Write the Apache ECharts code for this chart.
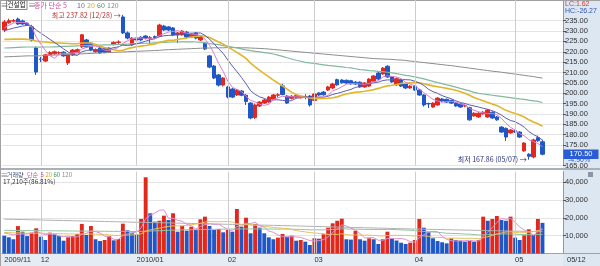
<!DOCTYPE html>
<html><head><meta charset="utf-8">
<script src="https://cdn.jsdelivr.net/npm/echarts@6/dist/echarts.min.js"></script>
<style>html,body{margin:0;padding:0;background:#fff}#c{width:600px;height:266px}</style>
</head><body><div id="c"></div>
<script>
// ---------- DATA ----------
const dates = [
'2009/11/19','2009/11/20','2009/11/23','2009/11/24','2009/11/25','2009/11/26','2009/11/27','2009/11/30',
'2009/12/01','2009/12/02','2009/12/03','2009/12/04','2009/12/07','2009/12/08','2009/12/09','2009/12/10','2009/12/11','2009/12/14','2009/12/15','2009/12/16','2009/12/17','2009/12/18','2009/12/21','2009/12/22','2009/12/23','2009/12/24','2009/12/28','2009/12/29','2009/12/30',
'2010/01/04','2010/01/05','2010/01/06','2010/01/07','2010/01/08','2010/01/11','2010/01/12','2010/01/13','2010/01/14','2010/01/15','2010/01/18','2010/01/19','2010/01/20','2010/01/21','2010/01/22','2010/01/25','2010/01/26','2010/01/27','2010/01/28','2010/01/29',
'2010/02/01','2010/02/02','2010/02/03','2010/02/04','2010/02/05','2010/02/08','2010/02/09','2010/02/10','2010/02/11','2010/02/12','2010/02/16','2010/02/17','2010/02/18','2010/02/19','2010/02/22','2010/02/23','2010/02/24','2010/02/25','2010/02/26',
'2010/03/02','2010/03/03','2010/03/04','2010/03/05','2010/03/08','2010/03/09','2010/03/10','2010/03/11','2010/03/12','2010/03/15','2010/03/16','2010/03/17','2010/03/18','2010/03/19','2010/03/22','2010/03/23','2010/03/24','2010/03/25','2010/03/26','2010/03/29','2010/03/30','2010/03/31',
'2010/04/01','2010/04/02','2010/04/05','2010/04/06','2010/04/07','2010/04/08','2010/04/09','2010/04/12','2010/04/13','2010/04/14','2010/04/15','2010/04/16','2010/04/19','2010/04/20','2010/04/21','2010/04/22','2010/04/23','2010/04/26','2010/04/27','2010/04/28','2010/04/29','2010/04/30',
'2010/05/03','2010/05/04','2010/05/06','2010/05/07','2010/05/10','2010/05/11','2010/05/12'];
const padSlots = [' ', '  ', '   ', '    '];
const monthLabels = ['2009/11','12','2010/01','02','03','04','05'];

const openP = [230.5,234.0,234.8,235.8,234.9,233.8,232.0,221.8,216.5,215.5,
218.5,219.0,219.4,219.8,214.6,218.4,219.8,222.4,225.7,224.2,
220.0,221.8,221.5,219.9,223.5,224.5,236.8,229.1,223.3,226.6,
227.0,227.6,226.5,227.3,227.6,232.4,232.0,231.5,228.1,228.1,
229.5,227.1,229.1,225.7,224.2,218.0,213.1,208.8,203.9,203.0,
202.0,199.1,201.0,199.0,195.2,188.2,193.8,195.2,195.7,197.2,
199.0,203.5,198.6,197.5,198.0,197.8,198.2,198.6,196.5,200.1,
200.5,201.5,202.5,206.5,206.3,206.2,206.0,205.3,205.3,203.0,
203.4,205.8,209.7,209.3,213.0,207.8,204.0,206.3,204.4,202.5,
203.4,201.5,199.1,195.0,193.3,194.3,197.2,197.0,196.5,195.2,
194.8,193.8,193.0,189.0,188.5,190.0,188.5,190.8,188.5,183.6,
183.0,180.8,181.8,181.2,172.1,170.5,169.2,178.5,176.5];
const closeP = [234.4,235.0,235.0,233.4,233.4,233.0,225.7,210.2,216.3,218.5,
219.6,220.0,219.6,218.0,218.4,220.8,221.0,228.2,222.3,220.8,
221.0,219.4,219.8,221.8,224.5,224.7,229.1,226.6,226.6,225.7,
225.7,226.6,226.8,226.8,232.9,230.5,230.5,228.1,229.1,230.0,
227.1,228.6,226.6,227.1,221.3,212.6,207.3,203.9,207.3,198.1,
198.1,201.5,199.0,196.0,188.0,194.3,195.7,196.7,198.1,199.1,
199.2,199.3,195.2,198.5,198.8,198.5,198.3,194.3,199.6,199.1,
199.2,203.0,204.4,204.0,205.0,204.9,204.5,204.4,203.0,204.9,
206.8,208.3,206.8,212.1,207.8,205.4,207.0,203.4,202.5,203.4,
201.5,199.1,194.3,194.8,195.2,197.6,196.2,195.7,195.2,193.8,
193.3,193.9,187.1,190.3,190.3,190.8,191.8,188.0,187.1,181.2,
178.8,182.2,181.2,178.8,175.9,169.5,177.4,177.0,170.5];
const lowP = [229.5,233.5,234.2,233.0,233.0,232.5,225.0,208.8,215.0,215.0,
218.0,218.6,218.8,217.6,213.6,218.0,219.4,221.8,221.8,220.3,
219.5,219.0,219.3,219.5,223.0,223.8,228.5,226.0,222.8,225.2,
225.2,226.0,223.8,226.2,227.2,230.0,230.0,227.6,224.2,227.8,
226.6,226.8,226.0,225.2,220.8,212.0,206.8,203.2,203.2,197.5,
197.6,198.6,198.5,194.3,187.4,187.5,193.3,194.8,195.3,196.8,
198.0,199.0,194.8,197.0,197.6,197.4,197.0,193.5,194.3,198.7,
198.8,201.0,202.0,203.6,204.6,204.5,204.1,204.0,202.6,202.6,
203.0,205.4,206.4,208.9,207.4,205.0,203.6,203.0,202.0,202.1,
201.1,198.7,193.5,192.8,192.9,193.9,195.8,195.3,194.8,193.4,
192.9,193.2,186.7,188.6,188.1,189.6,188.1,187.6,186.7,180.8,
176.9,180.4,180.8,178.4,171.7,167.86,168.5,176.5,170.0];
const highP = [235.3,236.0,235.8,236.5,235.5,234.3,233.0,222.5,217.5,219.0,
220.3,220.6,220.2,220.2,218.8,221.3,221.6,228.6,226.2,224.6,
221.6,222.3,222.0,222.2,225.0,225.5,237.82,229.8,227.0,227.3,
227.5,228.0,227.6,227.8,233.5,233.0,232.4,231.9,229.5,230.5,
230.0,229.0,229.5,227.6,224.7,218.5,213.6,209.3,207.8,203.5,
202.5,202.0,201.5,199.5,195.7,195.0,196.2,197.2,198.6,199.6,
200.0,204.5,199.0,199.0,199.2,199.0,199.5,199.0,200.0,200.5,
201.0,203.5,205.0,207.0,206.8,206.6,206.4,205.8,205.7,205.3,
207.2,208.8,210.2,212.6,213.5,208.3,207.5,206.8,204.8,203.8,
203.8,202.0,199.5,195.4,195.6,198.0,197.6,197.4,196.9,195.6,
195.2,194.5,193.4,190.8,190.8,191.3,192.3,191.2,188.9,184.0,
183.4,182.6,182.3,181.6,176.3,171.0,178.0,179.5,177.5];

const ma5 = [231.5,232.8,233.8,234.2,234.2,234.0,232.1,227.1,223.7,220.7,
218.1,216.9,218.8,219.1,219.1,219.4,219.6,221.3,222.1,222.6,
222.7,222.3,220.7,220.6,221.3,222.0,224.0,225.3,226.3,226.5,
226.7,226.2,226.3,226.3,227.8,228.7,229.5,229.8,230.2,229.6,
229.0,228.6,228.3,227.9,226.1,223.2,219.0,214.4,210.5,205.8,
202.9,201.8,200.8,198.5,196.5,195.8,194.6,194.1,194.6,196.8,
197.8,198.5,198.2,198.3,198.2,198.1,197.9,197.7,197.9,198.0,
198.1,199.0,201.1,201.9,203.1,204.3,204.6,204.6,204.4,204.3,
204.7,205.5,206.0,207.8,208.4,208.1,207.8,207.1,205.2,204.3,
203.6,202.0,200.2,198.6,197.0,196.2,195.6,195.9,196.0,195.7,
194.8,194.4,192.7,191.7,191.0,190.5,190.1,190.2,189.6,187.8,
185.4,183.5,182.1,180.4,179.4,177.5,176.6,175.7,174.1];
const ma10 = [230.2,230.8,231.4,231.9,232.4,232.7,232.5,230.5,229.0,227.5,
226.0,224.5,223.0,221.4,219.9,218.7,218.2,220.0,220.6,220.9,
221.0,221.0,221.0,221.4,222.0,222.4,223.2,223.0,223.4,223.9,
224.4,225.1,225.8,226.3,227.2,227.7,227.9,228.0,228.3,228.7,
228.8,229.0,229.0,229.1,227.9,226.1,223.8,221.4,219.2,216.0,
213.1,210.4,207.6,204.5,201.2,199.4,198.2,197.5,196.6,196.7,
196.8,196.5,196.2,196.4,197.5,197.9,198.2,197.9,198.1,198.1,
198.1,198.5,199.4,199.9,200.5,201.2,201.8,202.8,203.2,203.7,
204.5,205.0,205.3,206.1,206.4,206.4,206.7,206.6,206.5,206.4,
205.8,204.9,203.7,201.9,200.7,199.9,198.8,198.0,197.3,196.3,
195.5,195.0,194.3,193.8,193.3,192.7,192.2,191.5,190.6,189.4,
187.9,186.8,186.2,185.0,183.6,181.5,180.0,178.9,177.3];
const ma20 = [226.0,226.0,226.1,226.1,226.1,226.0,225.8,225.2,224.9,224.7,
224.5,224.3,224.2,224.1,224.0,223.9,223.9,224.2,224.2,224.2,
223.5,222.7,222.0,221.4,221.0,220.5,220.7,221.5,222.0,222.4,
222.7,223.0,223.4,223.8,224.6,225.0,225.5,225.5,225.9,226.3,
226.6,227.1,227.4,227.7,227.5,226.9,225.8,224.7,223.7,222.4,
221.0,219.7,218.3,216.8,214.5,212.7,211.0,209.4,207.9,206.3,
204.9,203.5,201.9,200.5,199.3,198.6,198.2,197.7,197.3,197.4,
197.4,197.5,197.8,198.2,199.0,199.6,200.0,200.4,200.6,200.9,
201.3,201.7,202.3,203.0,203.5,203.8,204.2,204.7,204.8,205.0,
205.2,205.0,204.5,204.0,203.5,203.1,202.7,202.3,201.9,201.4,
200.7,200.0,199.0,197.9,197.0,196.3,195.5,194.7,194.0,192.9,
191.7,190.9,190.2,189.4,188.5,187.1,186.1,185.2,184.0];
const ma60 = [221.8,221.9,222.0,222.1,222.2,222.3,222.3,222.2,222.2,222.3,
222.3,222.4,222.5,222.6,222.6,222.7,222.8,222.9,223.0,223.1,
223.2,223.2,223.3,223.3,223.4,223.5,223.6,223.7,223.8,223.9,
224.0,224.1,224.2,224.3,224.4,224.5,224.6,224.7,224.7,224.8,
224.8,224.8,224.7,224.6,224.3,223.9,223.7,223.4,223.0,222.6,
222.2,221.8,221.4,220.9,220.5,220.2,219.9,219.6,219.3,218.9,
218.4,217.8,217.1,216.5,215.9,215.4,214.9,214.6,214.4,214.0,
213.7,213.4,213.2,212.9,212.7,212.4,212.2,211.8,211.4,211.2,
210.9,210.8,210.5,210.4,210.1,209.8,209.4,209.0,208.6,208.3,
207.9,207.4,206.9,206.3,205.7,205.1,204.6,204.0,203.5,202.9,
202.3,201.7,201.1,200.4,199.9,199.6,199.3,199.0,198.7,198.4,
198.1,197.8,197.5,197.2,197.0,196.6,196.3,196.0,195.5];
const ma120 = [217.5,217.6,217.7,217.8,217.9,218.0,218.0,218.0,218.1,218.2,
218.3,218.4,218.5,218.6,218.7,218.8,218.9,219.0,219.1,219.2,
219.3,219.4,219.5,219.6,219.7,219.8,219.9,220.0,220.1,220.2,
220.3,220.4,220.5,220.6,220.7,220.9,221.0,221.1,221.2,221.3,
221.4,221.5,221.6,221.7,221.8,221.8,221.9,221.9,221.9,222.0,
222.0,222.0,221.9,221.9,221.8,221.7,221.6,221.5,221.3,221.1,
220.9,220.7,220.5,220.3,220.1,219.9,219.7,219.5,219.3,219.1,
218.9,218.7,218.5,218.3,218.1,217.9,217.7,217.5,217.3,217.1,
216.9,216.7,216.6,216.5,216.4,216.3,216.1,216.0,215.8,215.5,
215.3,215.0,214.8,214.5,214.3,214.0,213.8,213.5,213.3,213.0,
212.7,212.4,212.1,211.8,211.5,211.2,210.9,210.6,210.4,210.1,
209.8,209.5,209.2,208.9,208.6,208.3,208.0,207.6,207.3];

const volume = [10000,9100,8000,15400,12250,9800,11700,14150,9450,7600,
11700,10800,9800,7200,9100,9800,10950,16600,10400,15450,
8000,7000,7600,9800,7400,8150,16750,13000,11700,10800,
19400,42800,22600,17900,18400,21250,18800,22600,12250,15450,
12800,15050,13200,19200,20700,15450,13200,13750,11900,13200,
12250,25000,15050,20100,11350,16600,14500,11350,9100,8000,
8900,10950,9450,10000,7200,7600,6650,4800,8550,8300,
10800,14500,16950,18400,19550,8000,7800,12800,8000,7200,
8550,8000,5350,8000,12250,8550,7300,6050,5350,6100,
7600,19400,14500,12100,8550,7000,6300,5700,8550,7600,
7200,6650,7000,6650,7600,20700,18400,19400,21050,18800,
18400,20700,8900,7600,10200,13600,10400,19400,17210];
const vma5 = [11500,11000,10500,10800,10950,10910,11430,12660,11470,10540,
10920,10740,9870,9420,9720,9340,9370,10730,11370,12640,
12280,11490,9690,9570,7960,7990,9940,11020,11400,12080,
14330,19540,21460,22700,24220,24590,19790,19790,18660,18070,
16380,15630,13750,15140,16190,16720,16350,16460,15000,13500,
12860,15220,15480,17120,16750,17620,15520,14780,12580,11910,
10370,9660,9280,9460,9300,9040,8180,7250,6960,7180,
7820,9390,11820,13790,16040,15480,14140,13310,11230,8760,
8870,8910,7420,7420,8430,8430,8290,8430,7900,6670,
6480,8900,10590,11940,12430,12310,9690,7930,7220,7030,
7070,7140,7400,7020,7020,9720,12070,14550,17430,19670,
19210,19670,17570,14880,13160,12200,10140,12240,14160];
const vma20 = [11800,11700,11600,11600,11500,11400,11400,11450,11400,11300,
11250,11200,11100,11050,11000,10950,10900,10950,10980,10960,
10860,10760,10740,10460,10220,10130,10390,10330,10440,10600,
10990,12590,13230,13760,14230,14800,15190,15490,15580,15580,
15820,16230,16510,16980,17640,18010,17830,17870,17880,18000,
17640,16750,16370,16480,16130,15900,15680,15120,14960,14590,
14390,14190,14000,13540,12870,12470,12150,11700,11530,11290,
11210,10690,10780,10700,11110,10680,10340,10420,10360,10320,
10300,10160,9950,9850,10100,10150,10180,10250,10090,9980,
9820,10060,9940,9620,9070,9020,8950,8590,8620,8640,
8570,8510,8590,8520,8290,8900,9450,10120,10900,11540,
12080,12140,11860,11640,11720,12050,12260,12940,13370];
const vma60 = [13000,13000,12950,12950,12900,12900,12850,12850,12800,12800,
12750,12750,12700,12700,12650,12650,12600,12600,12600,12550,
12550,12500,12500,12450,12450,12400,12400,12400,12350,12350,
12400,12500,12600,12700,12800,12900,13000,13100,13200,13250,
13300,13350,13400,13450,13500,13550,13600,13650,13700,13750,
13750,13800,13800,13800,13800,13780,13760,13740,13720,13710,
13690,13720,13750,13660,13570,13540,13450,13300,13280,13290,
13280,13340,13460,13650,13820,13790,13740,13670,13630,13500,
13510,13520,13490,13460,13540,13540,13390,13270,13160,13090,
12890,12500,12360,12270,12100,11870,11660,11380,11310,11180,
11090,10950,10850,10640,10420,10510,10590,10690,10840,10930,
11040,10960,10860,10650,10630,10580,10520,10650,10780];
const vma120 = [19300,19240,19180,19120,19060,19000,18940,18880,18820,18760,
18700,18640,18580,18520,18460,18400,18340,18280,18220,18160,
18100,18040,17980,17920,17860,17800,17740,17680,17620,17560,
17500,17450,17400,17350,17300,17240,17180,17120,17060,17000,
16940,16880,16820,16760,16700,16640,16580,16520,16460,16400,
16340,16280,16220,16160,16100,16040,15980,15920,15860,15800,
15740,15670,15600,15540,15470,15400,15340,15270,15200,15140,
15070,15000,14940,14870,14800,14740,14670,14600,14540,14470,
14400,14340,14270,14200,14140,14070,14000,13940,13870,13800,
13750,13700,13640,13590,13530,13480,13420,13370,13310,13260,
13200,13150,13090,13040,12980,12930,12870,12820,12760,12710,
12650,12600,12540,12490,12430,12380,12330,12290,12250];

const priceTicks = [165,175,180,185,190,195,200,205,210,215,220,225,230,235];
const volumeTicks = [10000,20000,30000,40000];
const changePct = '-4.90%';
const volShare = '86.81%';
const lcText = 'LC:1.62', hcText = 'HC:-26.27';

// ---------- BUILD ----------
const FONT = "'Liberation Sans','Noto Sans CJK KR',sans-serif";
const KFONT = "'Noto Sans CJK KR','Liberation Sans',sans-serif";
const RED = '#e2271d', BLUE = '#1f57c6';
const cats = dates.concat(padSlots);
const monthIdx = [];
dates.forEach((d, i) => { if (i === 0 || d.slice(0, 7) !== dates[i - 1].slice(0, 7)) monthIdx.push(i); });
const labelOf = {}; monthIdx.forEach((i, k) => { labelOf[i] = monthLabels[k]; });

const candles = dates.map((d, i) => [openP[i], closeP[i], lowP[i], highP[i]]);
const volBars = volume.map((v, i) => ({ value: v, itemStyle: { color: (i > 0 && v > volume[i - 1]) ? RED : BLUE } }));

let hiI = 0, loI = 0;
highP.forEach((v, i) => { if (v > highP[hiI]) hiI = i; });
lowP.forEach((v, i) => { if (v < lowP[loI]) loI = i; });
const mmdd = i => dates[i].slice(5);
const last = dates.length - 1;

const monthLines = monthIdx.slice(1).map(i => ({ xAxis: cats[i] }));
const nulls = cats.map(() => null);

function maLine(name, data, color, xi, width, z) {
  return { name, type: 'line', data, xAxisIndex: xi, yAxisIndex: xi, showSymbol: false, symbol: 'none',
    lineStyle: { color, width: width || 1 }, z: z || 3, silent: true };
}
function txt(x, y, text, fill, font) {
  return { type: 'text', z: 10, silent: true, x, y, style: { text, fill, font, verticalAlign: 'middle' } };
}

const graphics = [
  { type: 'rect', silent: true, z: -10, shape: { x: 563, y: 0, width: 37, height: 266 }, style: { fill: '#dde7f2' } },
  { type: 'rect', silent: true, z: -10, shape: { x: 0, y: 253.5, width: 563, height: 12.5 }, style: { fill: '#e6ecf3' } },
  { type: 'rect', silent: true, z: 5, shape: { x: 0, y: 168, width: 600, height: 2 }, style: { fill: '#a8b0ba' } },
  { type: 'line', silent: true, z: 5, shape: { x1: 0, y1: 0.5, x2: 600, y2: 0.5 }, style: { stroke: '#a0a0a0', lineWidth: 1 } },
  { type: 'line', silent: true, z: 5, shape: { x1: 0.5, y1: 0, x2: 0.5, y2: 266 }, style: { stroke: '#a0a0a0', lineWidth: 1 } },
  { type: 'line', silent: true, z: 5, shape: { x1: 563, y1: 253.5, x2: 600, y2: 253.5 }, style: { stroke: '#9aa4b0', lineWidth: 1 } },
  // price header
  txt(0.5, 5, '≡', '#777', '8px ' + KFONT),
  { type: 'rect', z: 9, silent: true, shape: { x: 6.5, y: 0.5, width: 20.5, height: 9 }, style: { fill: '#fafafa', stroke: '#8a8a8a', lineWidth: 1 } },
  txt(7.5, 5, '건설업', '#222', '6.5px ' + KFONT),
  txt(28, 5, '≡', '#777', '8px ' + KFONT),
  txt(34, 5, '종가 단순 5', '#c8509a', '7px ' + KFONT),
  txt(77, 5, '10', '#5c5cae', '7px ' + KFONT),
  txt(87, 5, '20', '#d6aa10', '7px ' + KFONT),
  txt(97, 5, '60', '#3f8f5e', '7px ' + KFONT),
  txt(107, 5, '120', '#888', '7px ' + KFONT),
  // right info
  txt(565, 4.5, lcText, '#d03a3a', '7px ' + FONT),
  txt(565, 11.5, hcText, '#2d55b5', '7px ' + FONT),
  txt(568, 160.5, changePct, '#2a5cd6', '7px ' + FONT),
  // volume header
  txt(0.5, 175, '≡', '#777', '8px ' + KFONT),
  txt(7, 175, '거래량', '#3a4a7a', '6px ' + KFONT),
  txt(27, 175, '단순', '#c8509a', '6px ' + KFONT),
  txt(40.5, 175, '5', '#c8509a', '6px ' + KFONT),
  txt(45.5, 175, '20', '#d6aa10', '6px ' + KFONT),
  txt(53.5, 175, '60', '#3f8f5e', '6px ' + KFONT),
  txt(62, 175, '120', '#888', '6px ' + KFONT),
  txt(3, 181.5, volume[last].toLocaleString('en-US') + '주(' + volShare + ')', '#333', '6.5px ' + KFONT),
  { type: 'rect', z: 10, silent: true, shape: { x: 588, y: 172, width: 5, height: 5 }, style: { fill: '#8a96a6' } },
  txt(567, 260, mmdd(last), '#333', '7.5px ' + FONT)
];

const option = {
  animation: false,
  textStyle: { fontFamily: FONT },
  grid: [
    { left: 2, right: 37, top: 0, height: 165.6 },
    { left: 2, right: 37, top: 171.6, height: 81.9 }
  ],
  xAxis: [
    { type: 'category', gridIndex: 0, data: cats, boundaryGap: true,
      axisLine: { show: false }, axisTick: { show: false }, axisLabel: { show: false }, splitLine: { show: false } },
    { type: 'category', gridIndex: 1, data: cats, boundaryGap: true,
      axisLine: { show: true, lineStyle: { color: '#9aa4b0' } }, axisTick: { show: false },
      axisLabel: { show: true, interval: (i) => labelOf[i] !== undefined, formatter: (v, i) => labelOf[i] || '',
        align: 'left', margin: 3, fontSize: 7.5, color: '#333', fontFamily: FONT },
      splitLine: { show: false } }
  ],
  yAxis: [
    { type: 'value', gridIndex: 0, position: 'right', min: 165, max: 245, interval: 5,
      axisLine: { show: true, lineStyle: { color: '#8d98a8' } },
      axisTick: { show: true, length: 3, customValues: priceTicks, lineStyle: { color: '#555' } },
      axisLabel: { customValues: priceTicks, formatter: v => v.toFixed(2), fontSize: 7.5, color: '#333', margin: 2 },
      splitLine: { show: true, lineStyle: { color: '#e4e4e4', width: 1 } } },
    { type: 'value', gridIndex: 1, position: 'right', min: 0, max: 46000, interval: 10000,
      axisLine: { show: true, lineStyle: { color: '#8d98a8' } },
      axisTick: { show: true, length: 3, customValues: volumeTicks, lineStyle: { color: '#555' } },
      axisLabel: { customValues: volumeTicks, formatter: v => v.toLocaleString('en-US'), fontSize: 7.5, color: '#333', margin: 2 },
      splitLine: { show: true, lineStyle: { color: '#e4e4e4', width: 1 } } }
  ],
  series: [
    { type: 'line', data: nulls, xAxisIndex: 0, yAxisIndex: 0, z: 1, silent: true, showSymbol: false,
      markLine: { silent: true, symbol: ['none', 'none'], label: { show: false },
        lineStyle: { color: '#cdcdcd', width: 1, type: 'solid' }, data: monthLines } },
    { type: 'line', data: nulls, xAxisIndex: 1, yAxisIndex: 1, z: 1, silent: true, showSymbol: false,
      markLine: { silent: true, symbol: ['none', 'none'], label: { show: false },
        lineStyle: { color: '#cdcdcd', width: 1, type: 'solid' }, data: monthLines } },
    { name: 'price', type: 'candlestick', data: candles, xAxisIndex: 0, yAxisIndex: 0, barWidth: 4, z: 2, silent: true,
      itemStyle: { color: RED, color0: BLUE, borderColor: RED, borderColor0: BLUE, borderWidth: 1 },
      markPoint: { silent: true, symbol: 'circle', symbolSize: 0.1, itemStyle: { color: 'rgba(0,0,0,0)' },
        data: [
          { coord: [cats[hiI], highP[hiI]], label: { show: true, position: 'left', distance: 2,
            formatter: '최고 ' + highP[hiI].toFixed(2) + ' (' + mmdd(hiI) + ') →', color: '#b3302a', fontSize: 7, fontFamily: KFONT } },
          { coord: [cats[loI], lowP[loI]], label: { show: true, position: 'left', distance: 2,
            formatter: '최저 ' + lowP[loI].toFixed(2) + ' (' + mmdd(loI) + ') →', color: '#26307c', fontSize: 7, fontFamily: KFONT } }
        ] } },
    maLine('ma120', ma120, '#8c8c8c', 0, 1, 3),
    maLine('ma60', ma60, '#82b99c', 0, 1.2, 3),
    maLine('ma20', ma20, '#e3b52a', 0, 1.6, 3),
    maLine('ma10', ma10, '#5c5cae', 0, 1, 4),
    maLine('ma5', ma5, '#d77ccd', 0, 1, 4),
    { name: 'volume', type: 'bar', data: volBars, xAxisIndex: 1, yAxisIndex: 1, barWidth: 3.9, z: 2, silent: true },
    maLine('vma120', vma120, '#b0b0b0', 1, 1, 3),
    maLine('vma60', vma60, '#8fc3a4', 1, 1, 3),
    maLine('vma20', vma20, '#e6c25a', 1, 1, 3),
    maLine('vma5', vma5, '#d992cf', 1, 1, 4)
  ],
  graphic: graphics
};

const chart = echarts.init(document.getElementById('c'), null, { renderer: 'canvas', width: 600, height: 266 });
chart.setOption(option);
// current-price box, positioned through the price axis scale
const py = chart.convertToPixel({ yAxisIndex: 0 }, closeP[last]);
chart.setOption({ graphic: graphics.concat([
  { type: 'rect', z: 11, silent: true, shape: { x: 563.5, y: py - 4.8, width: 35, height: 9.6 }, style: { fill: '#2a5cd6' } },
  { type: 'text', z: 12, silent: true, x: 581, y: py, style: { text: closeP[last].toFixed(2), fill: '#fff', font: '7.5px ' + FONT, align: 'center', verticalAlign: 'middle' } }
]) });
</script>
</body></html>
